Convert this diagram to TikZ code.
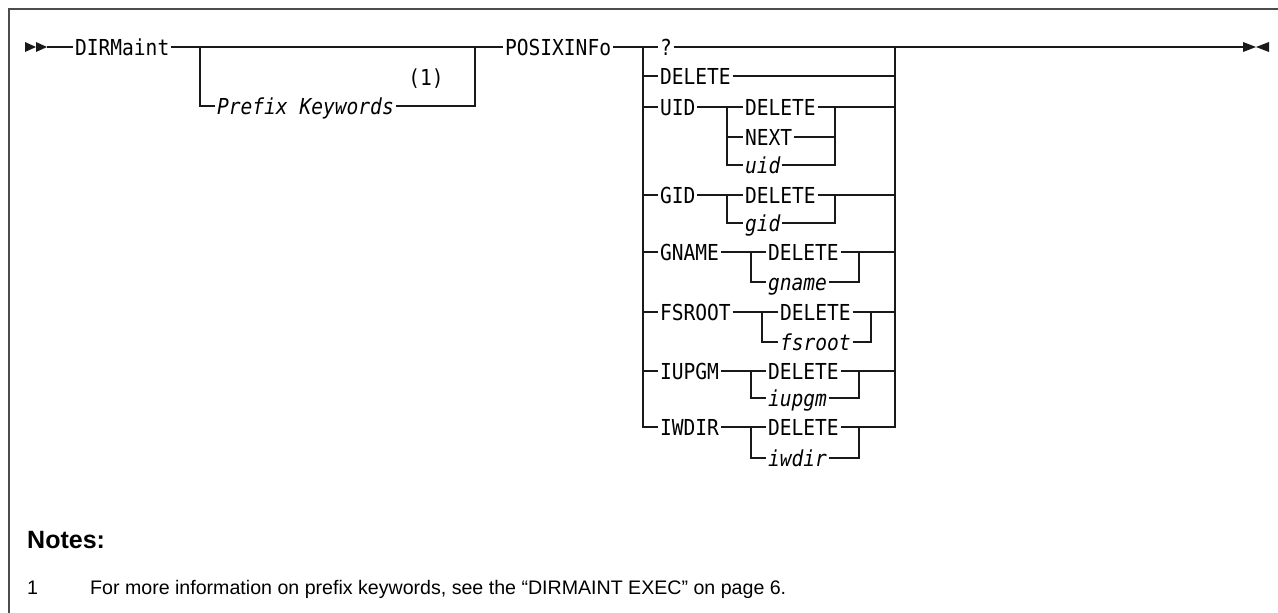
\documentclass[tikz,border=0pt]{standalone}
\usepackage{fontspec}
\setmainfont{Liberation Sans}
\newfontfamily\trilhofont[FakeStretch=0.89]{DejaVu Sans Mono}
\usepackage{tikz}
\usetikzlibrary{positioning}
\tikzset{
  trilho/.style={line width=1.4pt, black!90},
  termo/.style={inner sep=2pt, outer sep=0pt, anchor=west, text height=16pt, text depth=0pt, font=\trilhofont\fontsize{22}{22}\selectfont},
  var/.style={termo, font=\trilhofont\itshape\fontsize{22}{22}\selectfont},
  ponta/.style={fill=black!90},
  moldura/.style={line width=2pt, black!70},
  nota/.style={anchor=base west, inner sep=0pt, font=\fontsize{19.6}{22}\selectfont},
}
\begin{document}
\begin{tikzpicture}[x=1pt, y=-1pt]
  \useasboundingbox (0,0) rectangle (1278,613);
  \draw[moldura] (9,613) -- (9,9) -- (1278,9);
  % inicio e fim
  \fill[ponta] (25,42) -- (36,47) -- (25,52) -- cycle;
  \fill[ponta] (36,42) -- (47,47) -- (36,52) -- cycle;
  \fill[ponta] (1243,42) -- (1256,47) -- (1243,52) -- cycle;
  \fill[ponta] (1269,42) -- (1256,47) -- (1269,52) -- cycle;
  \coordinate (ini) at (47,47);
  \coordinate (fim) at (1243,47);
  \node[termo] (dirm) at (73,47) {DIRMaint};
  % prefixo opcional
  \coordinate (pa) at (200,47);
  \coordinate (pb) at (475,47);
  \node[var] (pref) at (215,106) {Prefix Keywords};
  \node[termo, anchor=center] (ref1) at (426,77) {(1)};
  \node[termo] (posix) at (503,47) {POSIXINFo};
  % pilha principal
  \coordinate (sa) at (643,47);
  \coordinate (sb) at (895,47);
  \node[termo] (q) at (658,47) {?};
  \node[termo] (del) at (658,76) {DELETE};
  \node[termo] (uid) at (658,107) {UID};
  \node[termo] (gid) at (658,195) {GID};
  \node[termo] (gname) at (658,252) {GNAME};
  \node[termo] (fsroot) at (658,312) {FSROOT};
  \node[termo] (iupgm) at (658,371) {IUPGM};
  \node[termo] (iwdir) at (658,427) {IWDIR};
  % sub-pilhas
  \coordinate (u1) at (727,107); \coordinate (u2) at (835,107);
  \node[termo] (udel) at (743,107) {DELETE};
  \node[termo] (unext) at (743,137) {NEXT};
  \node[var] (uvar) at (743,165) {uid};
  \coordinate (g1) at (727,195); \coordinate (g2) at (835,195);
  \node[termo] (gdel) at (743,195) {DELETE};
  \node[var] (gvar) at (743,223) {gid};
  \coordinate (n1) at (751,252); \coordinate (n2) at (859,252);
  \node[termo] (ndel) at (766,252) {DELETE};
  \node[var] (nvar) at (766,282) {gname};
  \coordinate (f1) at (762,312); \coordinate (f2) at (871,312);
  \node[termo] (fdel) at (778,312) {DELETE};
  \node[var] (fvar) at (778,342) {fsroot};
  \coordinate (i1) at (751,371); \coordinate (i2) at (859,371);
  \node[termo] (idel) at (766,371) {DELETE};
  \node[var] (ivar) at (766,398) {iupgm};
  \coordinate (w1) at (751,427); \coordinate (w2) at (859,427);
  \node[termo] (wdel) at (766,427) {DELETE};
  \node[var] (wvar) at (766,458) {iwdir};
  % trilhos
  \draw[trilho] (ini) -- (dirm.west);
  \draw[trilho] (dirm.east) -- (posix.west);
  \draw[trilho] (pa) |- (pref.west);
  \draw[trilho] (pref.east) -| (pb);
  \draw[trilho] (posix.east) -- (q.west);
  \draw[trilho] (q.east) -- (fim);
  \draw[trilho] (sa) |- (iwdir.west);
  \draw[trilho] (sb) |- (w2);
  \draw[trilho] (sa |- del) -- (del.west);
  \draw[trilho] (del.east) -- (sb |- del);
  \draw[trilho] (sa |- uid) -- (uid.west);
  \draw[trilho] (sa |- gid) -- (gid.west);
  \draw[trilho] (sa |- gname) -- (gname.west);
  \draw[trilho] (sa |- fsroot) -- (fsroot.west);
  \draw[trilho] (sa |- iupgm) -- (iupgm.west);
  % UID
  \draw[trilho] (uid.east) -- (udel.west);
  \draw[trilho] (u1) |- (uvar.west);
  \draw[trilho] (u1 |- unext) -- (unext.west);
  \draw[trilho] (udel.east) -- (sb |- udel);
  \draw[trilho] (uvar.east) -| (u2);
  \draw[trilho] (unext.east) -- (u2 |- unext);
  % GID
  \draw[trilho] (gid.east) -- (gdel.west);
  \draw[trilho] (g1) |- (gvar.west);
  \draw[trilho] (gdel.east) -- (sb |- gdel);
  \draw[trilho] (gvar.east) -| (g2);
  % GNAME
  \draw[trilho] (gname.east) -- (ndel.west);
  \draw[trilho] (n1) |- (nvar.west);
  \draw[trilho] (ndel.east) -- (sb |- ndel);
  \draw[trilho] (nvar.east) -| (n2);
  % FSROOT
  \draw[trilho] (fsroot.east) -- (fdel.west);
  \draw[trilho] (f1) |- (fvar.west);
  \draw[trilho] (fdel.east) -- (sb |- fdel);
  \draw[trilho] (fvar.east) -| (f2);
  % IUPGM
  \draw[trilho] (iupgm.east) -- (idel.west);
  \draw[trilho] (i1) |- (ivar.west);
  \draw[trilho] (idel.east) -- (sb |- idel);
  \draw[trilho] (ivar.east) -| (i2);
  % IWDIR
  \draw[trilho] (iwdir.east) -- (wdel.west);
  \draw[trilho] (w1) |- (wvar.west);
  \draw[trilho] (wdel.east) -- (w2);
  \draw[trilho] (wvar.east) -| (w2);
  % notas
  \node[nota, font=\bfseries\fontsize{25}{25}\selectfont] (notas) at (27,548) {Notes:};
  \node[nota] (num1) at (27,594) {1};
  \node[nota] (texto1) at (90,594) {For more information on prefix keywords, see the “DIRMAINT EXEC” on page 6.};
\end{tikzpicture}
\end{document}
